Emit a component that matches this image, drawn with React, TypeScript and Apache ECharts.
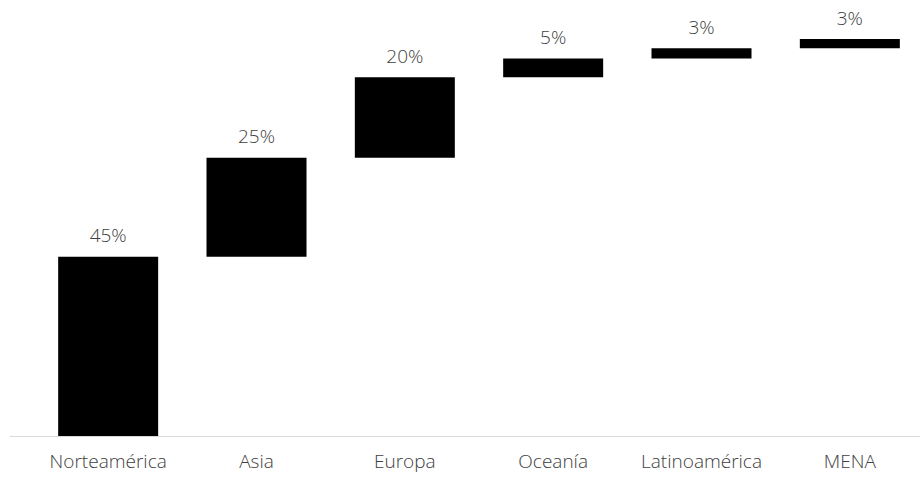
import React, { useEffect, useRef } from "react";
import * as echarts from "echarts";

const regions = ["Norteamérica", "Asia", "Europa", "Oceanía", "Latinoamérica", "MENA"];
const shares = [45, 24.8, 20.2, 4.7, 2.6, 2.3];
const shareLabels = ["45%", "25%", "20%", "5%", "3%", "3%"];

export default function App() {
  const ref = useRef<HTMLDivElement>(null);
  useEffect(() => {
    if (!ref.current) return;
    const chart = echarts.init(ref.current, undefined, { renderer: "svg" });
    const bases: number[] = [];
    let acc = 0;
    for (const v of shares) {
      bases.push(acc);
      acc += v;
    }
    const font = "'Open Sans', 'Segoe UI', sans-serif";
    chart.setOption({
      animation: false,
      backgroundColor: "#ffffff",
      grid: { left: 34, width: 890, top: 37.5, height: 398.5, containLabel: false },
      xAxis: {
        type: "category",
        data: regions,
        axisLine: { show: false },
        axisTick: { show: false },
        axisLabel: {
          interval: 0,
          hideOverlap: false,
          color: "#404040",
          fontFamily: font,
          fontWeight: 300,
          fontSize: 19,
          margin: 15,
        },
      },
      yAxis: {
        type: "value",
        min: 0,
        max: 100,
        show: false,
        splitLine: { show: false },
      },
      graphic: [
        {
          type: "line",
          shape: { x1: 10, y1: 436.5, x2: 920, y2: 436.5 },
          style: { stroke: "#d9d9d9", lineWidth: 1 },
          z: 10,
        },
      ],
      series: [
        {
          type: "bar",
          stack: "wf",
          data: bases,
          itemStyle: { color: "transparent" },
          barWidth: 100,
          silent: true,
        },
        {
          type: "bar",
          stack: "wf",
          data: shares,
          barWidth: 100,
          itemStyle: { color: "#000000" },
          label: {
            show: true,
            position: "top",
            distance: 12,
            color: "#404040",
            fontFamily: font,
            fontWeight: 300,
            fontSize: 19,
            formatter: (p: any) => shareLabels[p.dataIndex],
          },
        },
      ],
    });
    return () => chart.dispose();
  }, []);
  return (
    <div style={{ position: "absolute", left: 0, top: 0, width: 920, height: 477, overflow: "hidden", background: "#fff" }}>
      <div ref={ref} style={{ width: 930, height: 477 }} />
    </div>
  );
}
